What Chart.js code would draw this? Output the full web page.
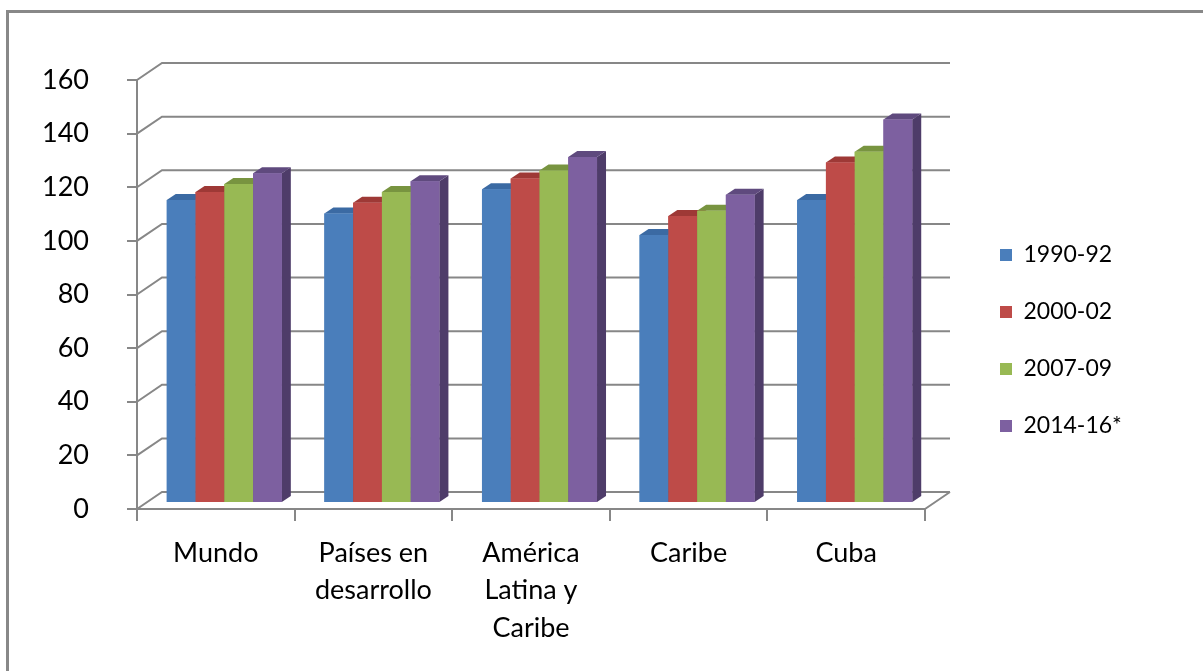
<!DOCTYPE html>
<html>
<head>
<meta charset="utf-8">
<script src="https://cdn.jsdelivr.net/npm/chart.js@4.4.1/dist/chart.umd.min.js"></script>
<style>
    html, body { margin: 0; padding: 0; background: #fff; }
    #wrap { position: relative; width: 1203px; height: 671px; overflow: hidden; }
    #frame { position: absolute; left: 6px; top: 10px; width: 1400px; height: 900px; border: 3px solid #888; box-sizing: border-box; }
    #chart { position: absolute; left: 0; top: 0; }
</style>
</head>
<body>
<div id="wrap">
    <div id="frame"></div>
    <canvas id="chart" width="1203" height="671"></canvas>
</div>
<script>
// data
const categories = [['Mundo'], ['Países en', 'desarrollo'], ['América', 'Latina y', 'Caribe'], ['Caribe'], ['Cuba']];
const seriesNames = ['1990-92', '2000-02', '2007-09', '2014-16*'];
const values1990 = [113, 108, 117, 100, 113];
const values2000 = [116, 112, 121, 107, 127];
const values2007 = [119, 116, 124, 109, 131];
const values2014 = [123, 120, 129, 115, 143];
const yMin = 0, yMax = 160, yStep = 20;

const frontColors = ['#4a7ebb', '#be4b48', '#98b954', '#7d60a0'];
const topColors = ['#3b6aa3', '#9e3936', '#789440', '#5f4a7e'];
const sideColors = ['#2f5583', '#7e2d2b', '#5d7331', '#4e3c69'];

const GRID = '#878787';
const FONT = 'Lato, "Open Sans", sans-serif';

// 3d look: back wall and bar plane offsets from the front axis
const WALL_DX = 25, WALL_DY = 17;
const BAR_DX = 8.5, BAR_DY = 6;
const DEPTH_DX = 9, DEPTH_DY = 6;

const wall3d = {
    id: 'wall3d',
    afterLayout(chart) {
        // put legend where the original has it
        const lg = chart.legend;
        const pad = lg.options.labels.padding;
        const fs = lg.options.labels.font.size;
        lg.left = 1000 - pad;
        lg.right = lg.left + 200;
        lg.top = 255 - pad - fs / 2;
        lg.bottom = lg.top + 400;
    },
    beforeDatasetsDraw(chart) {
        const { ctx, chartArea, scales } = chart;
        const y = scales.y;
        ctx.save();
        ctx.strokeStyle = GRID;
        ctx.lineWidth = 2;
        ctx.beginPath();
        y.ticks.forEach(t => {
            const py = y.getPixelForValue(t.value);
            ctx.moveTo(chartArea.left, py);
            ctx.lineTo(chartArea.left + WALL_DX, py - WALL_DY);
            ctx.lineTo(chartArea.right + WALL_DX, py - WALL_DY);
        });
        const p0 = y.getPixelForValue(0);
        ctx.moveTo(chartArea.right, p0);
        ctx.lineTo(chartArea.right + WALL_DX, p0 - WALL_DY);
        ctx.stroke();
        ctx.restore();

        ctx.save();
        ctx.translate(BAR_DX, -BAR_DY);
    },
    afterDatasetsDraw(chart) {
        // chart.js paints the last dataset first, so redo the bars
        // left to right with their side and top faces
        const { ctx } = chart;
        seriesNames.forEach((name, i) => {
            chart.getDatasetMeta(i).data.forEach(bar => {
                const l = bar.x - bar.width / 2, r = bar.x + bar.width / 2;
                const t = bar.y, b = bar.base;
                ctx.fillStyle = sideColors[i];
                ctx.beginPath();
                ctx.moveTo(r, t);
                ctx.lineTo(r + DEPTH_DX, t - DEPTH_DY);
                ctx.lineTo(r + DEPTH_DX, b - DEPTH_DY);
                ctx.lineTo(r, b);
                ctx.closePath();
                ctx.fill();
                ctx.fillStyle = topColors[i];
                ctx.beginPath();
                ctx.moveTo(l, t);
                ctx.lineTo(l + DEPTH_DX, t - DEPTH_DY);
                ctx.lineTo(r + DEPTH_DX, t - DEPTH_DY);
                ctx.lineTo(r, t);
                ctx.closePath();
                ctx.fill();
                bar.draw(ctx);
            });
        });
        ctx.restore();
    }
};

const allValues = [values1990, values2000, values2007, values2014];

new Chart(document.getElementById('chart'), {
    type: 'bar',
    data: {
        labels: categories,
        datasets: seriesNames.map((name, i) => ({
            label: name,
            data: allValues[i],
            backgroundColor: frontColors[i],
            borderWidth: 0,
            categoryPercentage: 0.73,
            barPercentage: 1.0
        }))
    },
    options: {
        responsive: false,
        devicePixelRatio: 1,
        animation: false,
        layout: { padding: { left: 0, top: 80, right: 218, bottom: 0 } },
        plugins: {
            tooltip: { enabled: false },
            legend: {
                position: 'right',
                align: 'start',
                maxWidth: 60,
                labels: {
                    boxWidth: 12,
                    boxHeight: 12,
                    padding: 34,
                    color: '#000',
                    font: { family: FONT, size: 23 }
                }
            }
        },
        scales: {
            x: {
                afterFit: s => { s.height = 671 - 509; },
                grid: { drawOnChartArea: false, offset: true, tickLength: 12, color: GRID, lineWidth: 2 },
                border: { color: GRID, width: 2 },
                ticks: { color: '#000', padding: 13, maxRotation: 0, font: { family: FONT, size: 27, lineHeight: 1.4 } }
            },
            y: {
                min: yMin,
                max: yMax,
                afterFit: s => { s.width = 137; },
                grid: { drawOnChartArea: false, tickLength: 10, color: GRID, lineWidth: 2 },
                border: { color: GRID, width: 2 },
                ticks: { stepSize: yStep, color: '#000', padding: 38, font: { family: FONT, size: 27 } }
            }
        }
    },
    plugins: [wall3d]
});
</script>
</body>
</html>
